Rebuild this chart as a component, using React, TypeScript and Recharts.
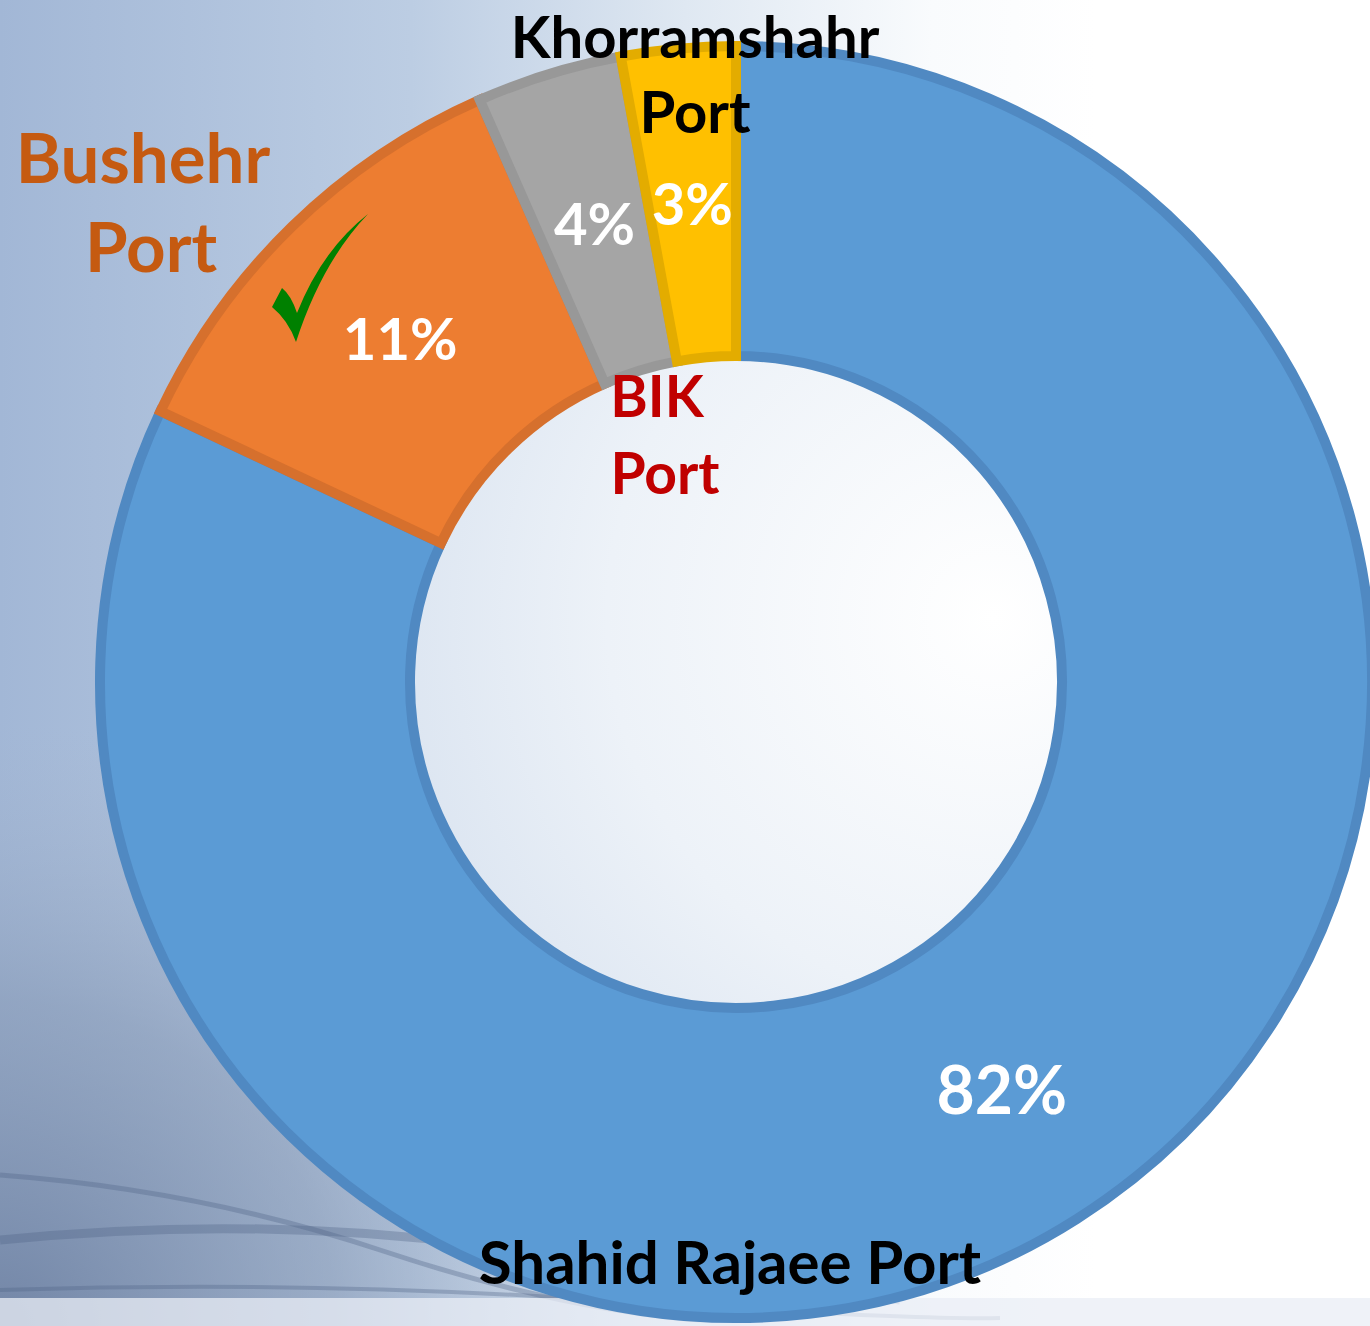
import React from 'react'
import { PieChart, Pie, Cell } from 'recharts'

// port names, in clockwise order from 12 o'clock
const PORTS = ['Shahid Rajaee Port', 'Bushehr Port', 'BIK Port', 'Khorramshahr Port']
// share of each port, %
const SHARE = [82.0, 11.4, 3.7, 2.9]

const FILLS = ['#5B9BD5', '#ED7D31', '#A5A5A5', '#FFC000']
const EDGES = ['#5089C2', '#D6702D', '#989898', '#E3AC00']

const W = 1370
const H = 1326
const CX = 736
const CY = 682
const FONT = 'Lato, "Open Sans", sans-serif'
const RADIAN = Math.PI / 180

const slices = PORTS.map((name, i) => ({ name, value: SHARE[i] }))

interface LabelProps {
  cx?: number
  cy?: number
  midAngle?: number
  innerRadius?: number
  outerRadius?: number
  percent?: number
  index?: number
}

function PctLabel({ cx = 0, cy = 0, midAngle = 0, innerRadius = 0, outerRadius = 0, percent = 0, index = 0 }: LabelProps) {
  const r = (innerRadius + outerRadius) / 2
  const x = cx + r * Math.cos(-midAngle * RADIAN)
  const y = cy + r * Math.sin(-midAngle * RADIAN)
  return (
    <text
      x={index === 0 ? x + 8 : x}
      y={y}
      fill="#ffffff"
      stroke="none"
      textAnchor="middle"
      dominantBaseline="central"
      fontFamily={FONT}
      fontWeight={700}
      fontSize={index === 0 ? 66 : 58}
    >
      {Math.round(percent * 100)}%
    </text>
  )
}

// category names sit where the original author dragged them
function NameLabels() {
  const txt = (x: number, y: number, s: string, color: string, size: number) => (
    <text x={x} y={y} textAnchor="middle" fill={color} fontFamily={FONT} fontWeight={700} fontSize={size}>
      {s}
    </text>
  )
  return (
    <svg width={W} height={H} style={{ position: 'absolute', left: 0, top: 0, pointerEvents: 'none' }}>
      {txt(730, 1284, PORTS[0], '#000000', 60)}
      {txt(143, 183, 'Bushehr', '#C55A11', 69)}
      {txt(151, 272, 'Port', '#C55A11', 69)}
      {txt(657, 417, 'BIK', '#C00000', 57)}
      {txt(665, 494, 'Port', '#C00000', 57)}
      {txt(695, 58, 'Khorramshahr', '#000000', 58)}
      {txt(695, 133, 'Port', '#000000', 58)}
      <path
        d="M272 307 L282 288 Q291 295 297 313 Q322 250 368 214 Q322 262 296 342 Q288 320 272 307 Z"
        fill="#008000"
      />
    </svg>
  )
}

function Backdrop() {
  return (
    <svg width={W} height={H} style={{ position: 'absolute', left: 0, top: 0 }}>
      <defs>
        <linearGradient id="bgH" x1="0" y1="0" x2="1" y2="0">
          <stop offset="0" stopColor="#a2b7d6" />
          <stop offset="0.3" stopColor="#bccde3" />
          <stop offset="0.5" stopColor="#dfe8f2" />
          <stop offset="0.68" stopColor="#f9fbfd" />
          <stop offset="0.8" stopColor="#ffffff" />
        </linearGradient>
        <radialGradient id="bgDark" cx="0" cy="1" r="0.7">
          <stop offset="0" stopColor="#6a7d9e" stopOpacity="0.85" />
          <stop offset="0.35" stopColor="#8496b2" stopOpacity="0.55" />
          <stop offset="0.65" stopColor="#a5b5cd" stopOpacity="0" />
        </radialGradient>
        <radialGradient id="hole" cx="0.9" cy="0.4" r="1">
          <stop offset="0" stopColor="#ffffff" />
          <stop offset="0.6" stopColor="#edf2f8" />
          <stop offset="1" stopColor="#d9e3f0" />
        </radialGradient>
      </defs>
      <rect width={W} height={H} fill="url(#bgH)" />
      <rect width={W} height={H} fill="url(#bgDark)" />
      <g fill="none" stroke="#4f6488" strokeOpacity="0.35">
        <path d="M0 1240 Q250 1215 480 1245 T900 1300" strokeWidth="9" />
        <path d="M0 1175 Q200 1190 380 1250 T700 1320" strokeWidth="5" />
        <path d="M0 1290 Q300 1280 600 1300 T1000 1318" strokeWidth="4" />
      </g>
      <rect x={0} y={1298} width={W} height={28} fill="#e9eef5" opacity="0.75" />
      <circle cx={CX} cy={CY} r={322} fill="url(#hole)" />
    </svg>
  )
}

export default function App() {
  return (
    <div style={{ position: 'absolute', left: 0, top: 0, width: W, height: H, overflow: 'hidden' }}>
      <Backdrop />
      <div style={{ position: 'absolute', left: 0, top: 0 }}>
        <PieChart width={W} height={H} margin={{ top: 0, right: 0, bottom: 0, left: 0 }}>
          <Pie
            data={slices}
            dataKey="value"
            cx={CX}
            cy={CY}
            innerRadius={326}
            outerRadius={636}
            startAngle={90}
            endAngle={-270}
            strokeWidth={10}
            isAnimationActive={false}
            labelLine={false}
            label={PctLabel}
          >
            {slices.map((s, i) => (
              <Cell key={s.name} fill={FILLS[i]} stroke={EDGES[i]} />
            ))}
          </Pie>
        </PieChart>
      </div>
      <NameLabels />
    </div>
  )
}
